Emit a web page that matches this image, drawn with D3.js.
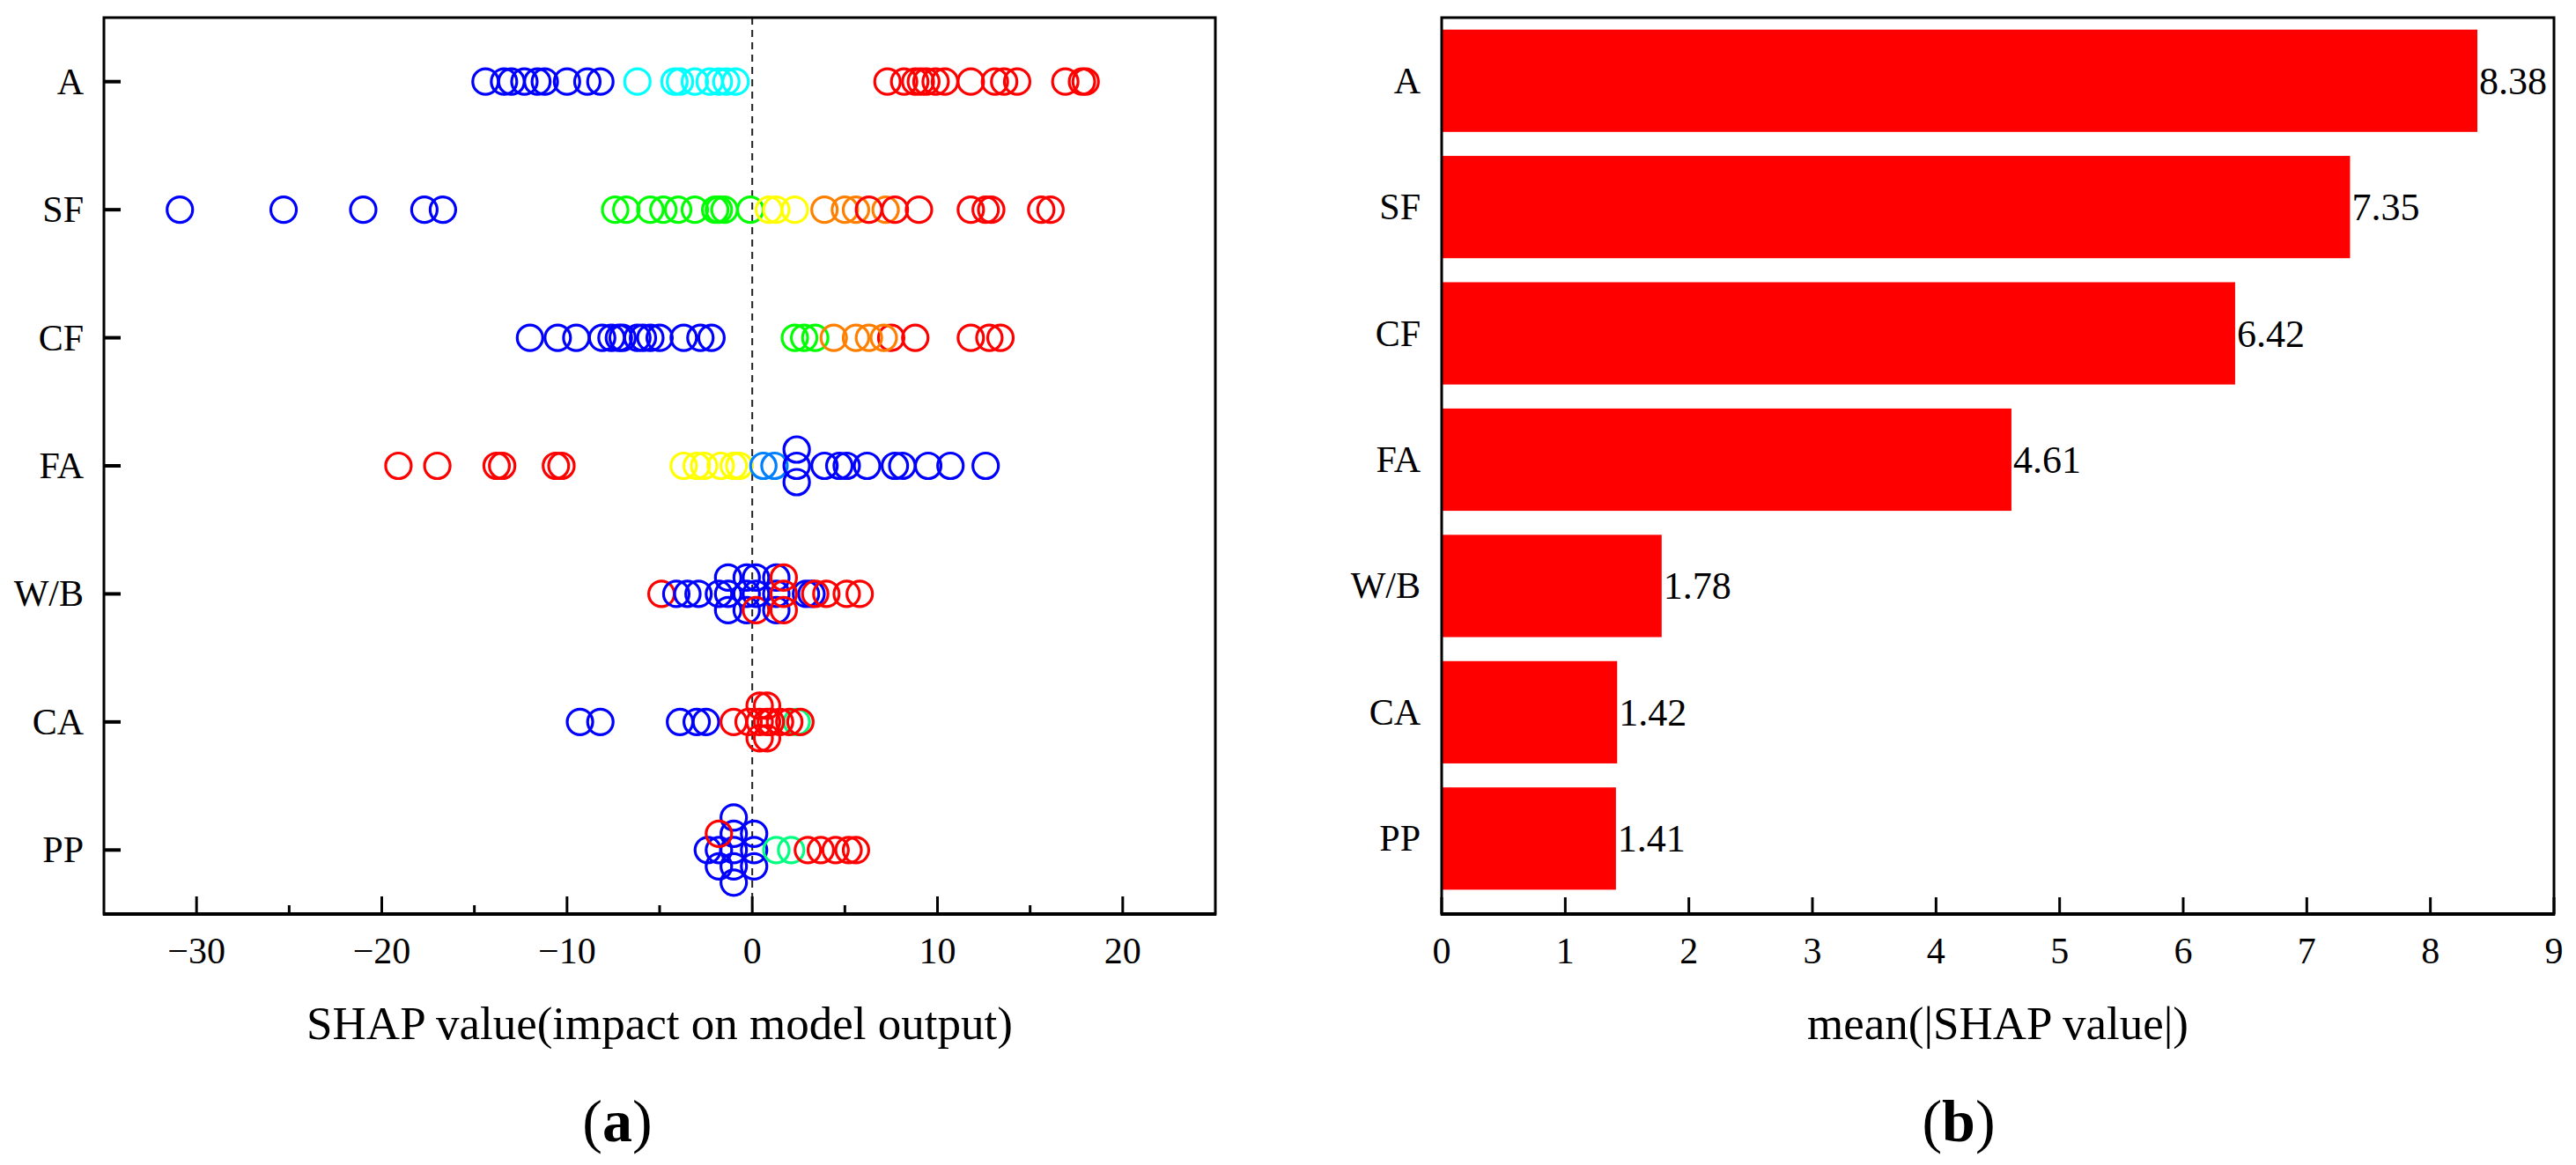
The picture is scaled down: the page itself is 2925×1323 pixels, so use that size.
<!DOCTYPE html>
<html lang="en">
<head>
<meta charset="UTF-8">
<title>SHAP summary</title>
<script src="https://d3js.org/d3.v7.min.js"></script>
<style>
    body { margin: 0; background: #fff; }
    svg { display: block; }
</style>
</head>
<body>
<div id="chart"></div>
<script>
// features, top to bottom
const features = ["A", "SF", "CF", "FA", "W/B", "CA", "PP"];
// mean(|SHAP|) for panel (b)
const meanShap = [8.38, 7.35, 6.42, 4.61, 1.78, 1.42, 1.41];

// feature value level (0 = low ... 7 = high) -> rainbow colour
const palette = ["#0000ff", "#0080ff", "#00ffff", "#00ff80", "#00ff00", "#ffff00", "#ff8000", "#ff0000"];

// SHAP values per feature, grouped as [level, values], in drawing order
const pointsA = [
    [0, [-14.4, -13.4, -13.0, -12.3, -11.6, -11.2, -10.0, -8.9, -8.2]],
    [2, [-6.2, -4.2, -3.9, -3.1, -2.3, -1.8, -1.4, -0.9]],
    [7, [7.3, 8.2, 8.8, 9.1, 9.4, 9.9, 10.4, 11.8, 13.1, 13.6, 14.3, 16.9, 17.8, 18.0]]
];
const pointsSF = [
    [0, [-30.9, -25.3, -21.0, -17.7, -16.7]],
    [4, [-7.4, -6.8, -5.5, -4.8, -4.0, -3.1, -2.0, -1.8, -1.5, -0.1]],
    [5, [0.9, 1.3, 2.3]],
    [6, [3.9, 5.0, 5.6, 7.2]],
    [7, [6.3, 7.7, 9.0, 11.8, 12.6, 12.9, 15.6, 16.1]]
];
const pointsCF = [
    [0, [-12.0, -10.5, -9.5, -8.1, -7.6, -7.2, -7.0, -6.2, -5.9, -5.5, -5.0, -3.7, -2.8, -2.2]],
    [4, [2.3, 2.8, 3.4]],
    [7, [7.5]],
    [6, [4.4, 5.6, 6.3, 7.1]],
    [7, [8.8, 11.8, 12.8, 13.4]]
];
const pointsFA = [
    [7, [-19.1, -17.0, -13.8, -13.5, -10.6, -10.3]],
    [5, [-3.7, -3.0, -2.6, -1.7, -1.0, -0.7]],
    [1, [0.6, 1.2]],
    [0, [2.4, 2.4, 2.4, 3.9, 4.7, 5.1, 6.2, 7.7, 8.1, 9.5, 10.7, 12.6]]
];
const pointsWB = [
    [7, [-4.9]],
    [0, [-4.1, -3.5, -2.9, -1.8, -1.3, -1.3, -1.3, -0.3, -0.3, -0.3, 0.2, 0.2]],
    [7, [0.2]],
    [0, [1.3, 1.3, 1.3, 2.9, 3.2]],
    [7, [1.7, 1.7, 1.7, 3.4, 4.0, 5.1, 5.8]]
];
const pointsCA = [
    [0, [-9.3, -8.2, -3.9, -3.0, -2.5]],
    [3, [2.4]],
    [7, [-1.0, -0.2, 0.4, 0.4, 0.4, 0.8, 0.8, 0.8, 1.0, 1.5, 2.0, 2.6]]
];
const pointsPP = [
    [0, [-2.4, -1.0, -1.0, -1.0, -1.0, -1.0, -1.8]],
    [7, [-1.8]],
    [0, [-1.8, 0.1, 0.1, 0.1]],
    [3, [1.3, 2.1]],
    [7, [3.0, 3.7, 4.5, 5.2, 5.6]]
];
const pointSets = [pointsA, pointsSF, pointsCF, pointsFA, pointsWB, pointsCA, pointsPP];

const xTicksA = [-30, -20, -10, 0, 10, 20];
const xMinorA = [-25, -15, -5, 5, 15];
const xTicksB = [0, 1, 2, 3, 4, 5, 6, 7, 8, 9];

const W = 2925, H = 1323;
const font = "'Liberation Serif', 'Times New Roman', serif";

const svg = d3.select("#chart").append("svg")
    .attr("width", W).attr("height", H)
    .style("font-family", font);
svg.append("rect").attr("width", W).attr("height", H).attr("fill", "#fff");

const color = d3.scaleOrdinal().domain(d3.range(palette.length)).range(palette);

// ---------- panel (a): beeswarm ----------
const pa = { left: 118, right: 1380, top: 20, bottom: 1038 };
const xA = d3.scaleLinear().domain([-35, 25]).range([pa.left, pa.right]);
const yA = d3.scalePoint().domain(features).range([pa.top, pa.bottom]).padding(0.5);
const laneY = d3.scaleLinear().domain([-1, 1]).range([-18.5, 18.5]);
const fmtA = xA.tickFormat(10);

// stack near-identical values into lanes 0, -1, +1, -2, +2 ...
function swarm(feature, groups) {
    const placed = [];
    const laneOrder = [0, -1, 1, -2, 2, -3, 3];
    groups.forEach(([level, vals]) => {
        vals.forEach(v => {
            const lane = laneOrder.find(l => !placed.some(p => p.lane === l && Math.abs(p.v - v) < 0.15));
            placed.push({ feature, v, level, lane });
        });
    });
    return placed;
}
const swarmData = features.flatMap((f, i) => swarm(f, pointSets[i]));

const gA = svg.append("g");

// zero line
gA.append("line")
    .attr("x1", xA(0)).attr("x2", xA(0))
    .attr("y1", pa.top).attr("y2", pa.bottom)
    .attr("stroke", "#222").attr("stroke-width", 2)
    .attr("stroke-dasharray", "8,6");

gA.append("g").selectAll("circle")
    .data(swarmData)
    .enter().append("circle")
    .attr("cx", d => xA(d.v))
    .attr("cy", d => yA(d.feature) + laneY(d.lane))
    .attr("r", 14.5)
    .attr("fill", "none")
    .attr("stroke", d => color(d.level))
    .attr("stroke-width", 3.2);

// frame
gA.append("rect")
    .attr("x", pa.left).attr("y", pa.top)
    .attr("width", pa.right - pa.left).attr("height", pa.bottom - pa.top)
    .attr("fill", "none").attr("stroke", "#000").attr("stroke-width", 3);
gA.append("line")
    .attr("x1", pa.left - 1).attr("x2", pa.right + 1)
    .attr("y1", pa.bottom).attr("y2", pa.bottom)
    .attr("stroke", "#000").attr("stroke-width", 4);

// x ticks (inward)
gA.append("g").selectAll("line.major")
    .data(xTicksA).enter().append("line")
    .attr("x1", d => xA(d)).attr("x2", d => xA(d))
    .attr("y1", pa.bottom).attr("y2", pa.bottom - 20)
    .attr("stroke", "#000").attr("stroke-width", 3);
gA.append("g").selectAll("line.minor")
    .data(xMinorA).enter().append("line")
    .attr("x1", d => xA(d)).attr("x2", d => xA(d))
    .attr("y1", pa.bottom).attr("y2", pa.bottom - 10)
    .attr("stroke", "#000").attr("stroke-width", 3);
gA.append("g").selectAll("text")
    .data(xTicksA).enter().append("text")
    .attr("x", d => xA(d)).attr("y", 1094)
    .attr("text-anchor", "middle")
    .attr("font-size", 42)
    .text(d => fmtA(d));

// y ticks + labels
gA.append("g").selectAll("line")
    .data(features).enter().append("line")
    .attr("x1", pa.left).attr("x2", pa.left + 19)
    .attr("y1", d => yA(d)).attr("y2", d => yA(d))
    .attr("stroke", "#000").attr("stroke-width", 4);
gA.append("g").selectAll("text")
    .data(features).enter().append("text")
    .attr("x", pa.left - 23).attr("y", d => yA(d) + 14)
    .attr("text-anchor", "end")
    .attr("font-size", 42)
    .text(d => d);

gA.append("text")
    .attr("x", (pa.left + pa.right) / 2).attr("y", 1180)
    .attr("text-anchor", "middle").attr("font-size", 53)
    .text("SHAP value(impact on model output)");

const capA = gA.append("text")
    .attr("x", 701).attr("y", 1296)
    .attr("text-anchor", "middle").attr("font-size", 68);
capA.append("tspan").text("(");
capA.append("tspan").attr("font-weight", "bold").text("a");
capA.append("tspan").text(")");

// ---------- panel (b): mean |SHAP| bars ----------
const pb = { left: 1637, right: 2900, top: 20, bottom: 1038 };
const xB = d3.scaleLinear().domain([0, 9]).range([pb.left, pb.right]);
const yB = d3.scaleBand().domain(features).range([pb.top, 1024]).paddingInner(0.19).paddingOuter(0.095);
const barData = features.map((f, i) => ({ feature: f, value: meanShap[i] }));

const gB = svg.append("g");

gB.append("g").selectAll("rect")
    .data(barData).enter().append("rect")
    .attr("x", pb.left)
    .attr("y", d => yB(d.feature))
    .attr("width", d => xB(d.value) - pb.left)
    .attr("height", yB.bandwidth())
    .attr("fill", "#ff0000");

gB.append("g").selectAll("text")
    .data(barData).enter().append("text")
    .attr("x", d => xB(d.value) + 2)
    .attr("y", d => yB(d.feature) + yB.bandwidth() / 2 + 15)
    .attr("font-size", 44)
    .text(d => d3.format(".2f")(d.value));

gB.append("rect")
    .attr("x", pb.left).attr("y", pb.top)
    .attr("width", pb.right - pb.left).attr("height", pb.bottom - pb.top)
    .attr("fill", "none").attr("stroke", "#000").attr("stroke-width", 3);
gB.append("line")
    .attr("x1", pb.left - 1).attr("x2", pb.right + 1)
    .attr("y1", pb.bottom).attr("y2", pb.bottom)
    .attr("stroke", "#000").attr("stroke-width", 4);

gB.append("g").selectAll("line")
    .data(xTicksB).enter().append("line")
    .attr("x1", d => xB(d)).attr("x2", d => xB(d))
    .attr("y1", pb.bottom).attr("y2", pb.bottom - 19)
    .attr("stroke", "#000").attr("stroke-width", 3);
gB.append("g").selectAll("text")
    .data(xTicksB).enter().append("text")
    .attr("x", d => xB(d)).attr("y", 1094)
    .attr("text-anchor", "middle")
    .attr("font-size", 42)
    .text(d => d);

gB.append("g").selectAll("text.cat")
    .data(features).enter().append("text")
    .attr("x", pb.left - 24)
    .attr("y", d => yB(d) + yB.bandwidth() / 2 + 14)
    .attr("text-anchor", "end")
    .attr("font-size", 42)
    .text(d => d);

gB.append("text")
    .attr("x", (pb.left + pb.right) / 2).attr("y", 1180)
    .attr("text-anchor", "middle").attr("font-size", 53)
    .text("mean(|SHAP value|)");

const capB = gB.append("text")
    .attr("x", 2224).attr("y", 1296)
    .attr("text-anchor", "middle").attr("font-size", 68);
capB.append("tspan").text("(");
capB.append("tspan").attr("font-weight", "bold").text("b");
capB.append("tspan").text(")");
</script>
</body>
</html>
